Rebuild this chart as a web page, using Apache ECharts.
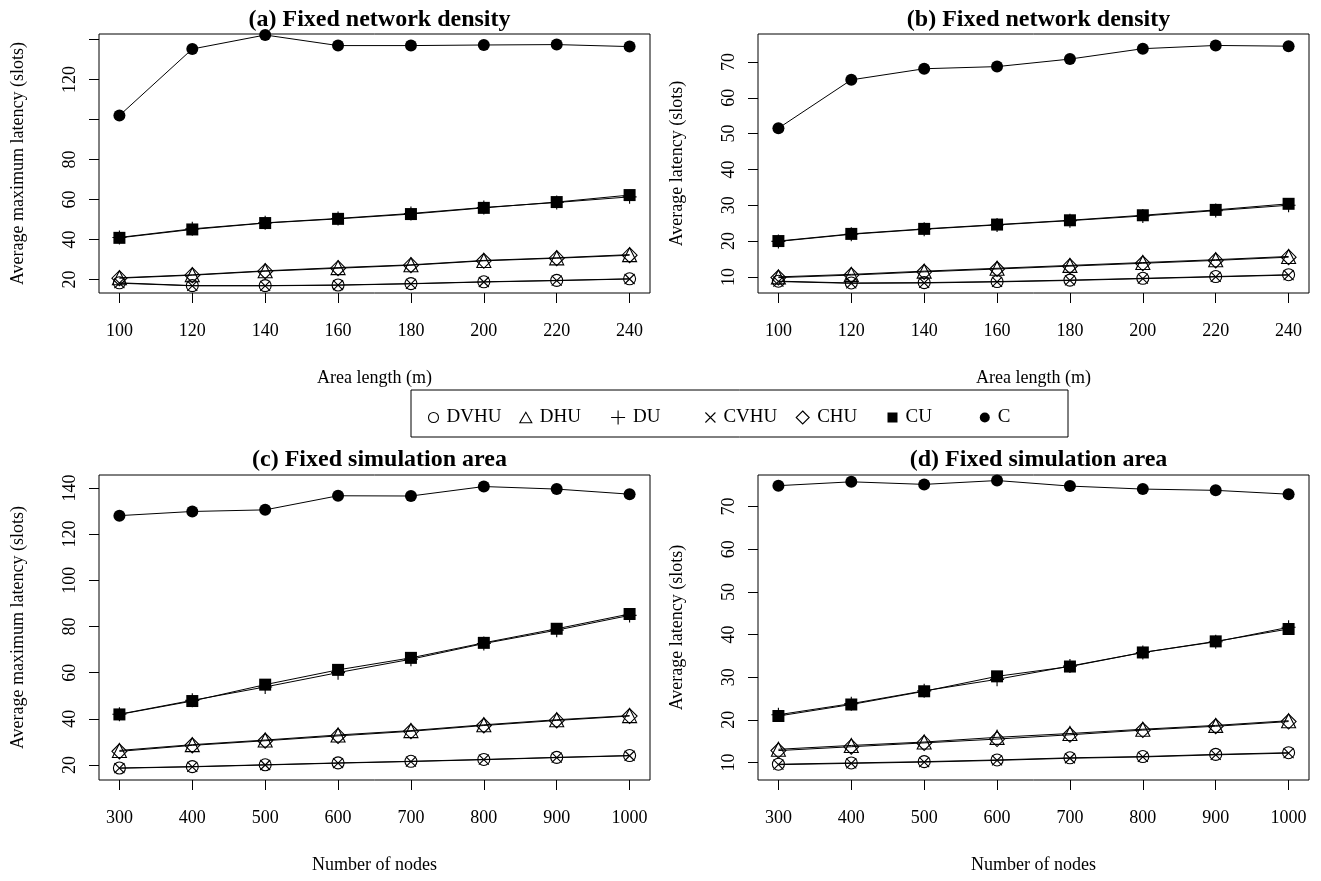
<!DOCTYPE html>
<html>
<head>
<meta charset="utf-8">
<script src="https://cdn.jsdelivr.net/npm/echarts@6/dist/echarts.min.js"></script>
<style>html,body{margin:0;padding:0;background:#fff}#c{width:1321px;height:881px}</style>
</head>
<body>
<div id="c"></div>
<script>
// ---------- data ----------
const seriesNames = ['DVHU', 'DHU', 'DU', 'CVHU', 'CHU', 'CU', 'C'];
const areaLength = [100, 120, 140, 160, 180, 200, 220, 240];
const numNodes = [300, 400, 500, 600, 700, 800, 900, 1000];

// (a) Fixed network density: average maximum latency
const aDVHU = [18.3, 16.9, 16.9, 17.2, 17.9, 18.8, 19.5, 20.3];
const aDHU  = [20.8, 22.3, 24.3, 25.9, 27.3, 29.5, 30.8, 32.4];
const aDU   = [41.0, 45.3, 48.3, 50.5, 53.0, 56.0, 58.5, 61.3];
const aCVHU = [18.1, 16.8, 16.8, 17.1, 17.8, 18.7, 19.4, 20.2];
const aCHU  = [20.6, 22.1, 24.1, 25.6, 27.1, 29.3, 30.6, 32.1];
const aCU   = [40.8, 45.0, 48.2, 50.3, 52.7, 55.8, 58.7, 62.2];
const aC    = [102.0, 135.3, 142.3, 137.0, 137.0, 137.3, 137.5, 136.5];

// (b) Fixed network density: average latency
const bDVHU = [8.8, 8.3, 8.4, 8.7, 9.1, 9.6, 10.1, 10.6];
const bDHU  = [10.0, 10.7, 11.6, 12.4, 13.2, 14.0, 14.8, 15.7];
const bDU   = [19.9, 21.9, 23.3, 24.5, 25.7, 27.0, 28.5, 30.0];
const bCVHU = [8.7, 8.2, 8.3, 8.6, 9.0, 9.5, 10.0, 10.5];
const bCHU  = [9.8, 10.5, 11.4, 12.2, 13.0, 13.8, 14.6, 15.5];
const bCU   = [20.0, 22.0, 23.4, 24.6, 25.8, 27.2, 28.7, 30.4];
const bC    = [51.5, 65.0, 68.1, 68.7, 70.8, 73.7, 74.6, 74.4];

// (c) Fixed simulation area: average maximum latency
const cDVHU = [18.7, 19.3, 20.1, 20.9, 21.6, 22.4, 23.3, 24.1];
const cDHU  = [26.3, 28.8, 30.8, 33.0, 34.9, 37.4, 39.6, 41.4];
const cDU   = [42.0, 48.0, 53.8, 60.0, 65.8, 72.6, 78.4, 84.8];
const cCVHU = [18.6, 19.2, 20.0, 20.8, 21.5, 22.3, 23.2, 24.0];
const cCHU  = [25.9, 28.5, 30.5, 32.6, 34.6, 37.1, 39.3, 41.2];
const cCU   = [41.9, 47.7, 54.8, 61.2, 66.4, 72.9, 79.0, 85.4];
const cC    = [128.0, 129.8, 130.5, 136.6, 136.5, 140.6, 139.5, 137.3];

// (d) Fixed simulation area: average latency
const dDVHU = [9.6, 9.9, 10.2, 10.6, 11.1, 11.4, 11.9, 12.3];
const dDHU  = [13.1, 14.0, 14.8, 15.9, 16.8, 17.8, 18.7, 19.8];
const dDU   = [21.2, 23.8, 26.8, 29.5, 32.6, 35.8, 38.3, 41.7];
const dCVHU = [9.5, 9.8, 10.1, 10.5, 11.0, 11.3, 11.8, 12.2];
const dCHU  = [12.8, 13.7, 14.6, 15.5, 16.5, 17.6, 18.5, 19.6];
const dCU   = [20.9, 23.6, 26.7, 30.2, 32.5, 35.8, 38.4, 41.3];
const dC    = [74.9, 75.8, 75.2, 76.1, 74.8, 74.1, 73.8, 72.9];

// tick values / labels
const yTicksMax = [20, 40, 60, 80, 100, 120, 140];
const yLabelsA  = [20, 40, 60, 80, 120];
const yLabelsC  = [20, 40, 60, 80, 100, 120, 140];
const yTicksAvg = [10, 20, 30, 40, 50, 60, 70];

const panelTitles = ['(a) Fixed network density', '(b) Fixed network density',
                     '(c) Fixed simulation area', '(d) Fixed simulation area'];
const xTitles = ['Area length (m)', 'Area length (m)', 'Number of nodes', 'Number of nodes'];
const yTitles = ['Average maximum latency (slots)', 'Average latency (slots)',
                 'Average maximum latency (slots)', 'Average latency (slots)'];

// ---------- build ----------
const FONT = 'Liberation Serif';
const panels = [
  {x: areaLength, ys: [aDVHU, aDHU, aDU, aCVHU, aCHU, aCU, aC], yTicks: yTicksMax, yLabels: yLabelsA},
  {x: areaLength, ys: [bDVHU, bDHU, bDU, bCVHU, bCHU, bCU, bC], yTicks: yTicksAvg, yLabels: yTicksAvg},
  {x: numNodes,   ys: [cDVHU, cDHU, cDU, cCVHU, cCHU, cCU, cC], yTicks: yTicksMax, yLabels: yLabelsC},
  {x: numNodes,   ys: [dDVHU, dDHU, dDU, dCVHU, dCHU, dCU, dC], yTicks: yTicksAvg, yLabels: yTicksAvg}
];
const layout = [
  {grid: {left: 99,  top: 34,  width: 551, height: 259}, xr: [94.4, 245.6], yr: [13.2, 142.8]},
  {grid: {left: 758, top: 34,  width: 551, height: 259}, xr: [94.4, 245.6], yr: [5.5, 77.8]},
  {grid: {left: 99,  top: 475, width: 551, height: 305}, xr: [272, 1028],   yr: [13.5, 145.6]},
  {grid: {left: 758, top: 475, width: 551, height: 305}, xr: [272, 1028],   yr: [5.9, 77.4]}
];

const openStyle = {color: 'none', borderColor: '#000', borderWidth: 1.1};
const filledStyle = {color: '#000', borderColor: '#000', borderWidth: 0};
const markers = [
  {symbol: 'circle', size: 12, style: openStyle, lsize: 10},
  {symbol: 'path://M5,0 L10,8.66 L0,8.66 Z', size: 14, style: openStyle, lsize: 12},
  {symbol: 'path://M5,0 L5,10 M0,5 L10,5', size: 14, style: openStyle, lsize: 14},
  {symbol: 'path://M0,0 L10,10 M10,0 L0,10', size: 10, style: openStyle, lsize: 10},
  {symbol: 'path://M5,0 L10,5 L5,10 L0,5 Z', size: 15, style: openStyle, lsize: 13},
  {symbol: 'rect', size: 12, style: filledStyle, lsize: 10},
  {symbol: 'circle', size: 12, style: filledStyle, lsize: 10}
];

const grids = [], xAxes = [], yAxes = [], series = [], titles = [];
panels.forEach((p, g) => {
  const L = layout[g];
  grids.push(Object.assign({show: true, borderColor: '#000', borderWidth: 1, backgroundColor: 'transparent'}, L.grid));
  xAxes.push({
    type: 'value', gridIndex: g, min: L.xr[0], max: L.xr[1],
    axisLine: {show: false}, splitLine: {show: false},
    axisTick: {show: true, inside: false, length: 10, customValues: p.x, lineStyle: {color: '#000', width: 1}},
    axisLabel: {customValues: p.x, formatter: v => String(v), margin: 29, color: '#000', fontFamily: FONT, fontSize: 18},
    name: xTitles[g], nameLocation: 'middle', nameGap: 76,
    nameTextStyle: {color: '#000', fontFamily: FONT, fontSize: 18}
  });
  yAxes.push({
    type: 'value', gridIndex: g, min: L.yr[0], max: L.yr[1],
    axisLine: {show: false}, splitLine: {show: false},
    axisTick: {show: true, inside: false, length: 10, customValues: p.yTicks, lineStyle: {color: '#000', width: 1}},
    axisLabel: {customValues: p.yLabels, formatter: v => String(v), rotate: 90, margin: 20, color: '#000', fontFamily: FONT, fontSize: 18},
    name: yTitles[g], nameLocation: 'middle', nameGap: 72, nameRotate: 90,
    nameTextStyle: {color: '#000', fontFamily: FONT, fontSize: 18}
  });
  p.ys.forEach((vals, s) => {
    const m = markers[s];
    series.push({
      type: 'line', name: seriesNames[s], xAxisIndex: g, yAxisIndex: g,
      data: p.x.map((x, i) => [x, vals[i]]),
      symbol: m.symbol, symbolSize: m.size, showAllSymbol: true,
      itemStyle: m.style, lineStyle: {color: '#000', width: 1},
      emphasis: {disabled: true}, silent: true, clip: false, z: 2 + s
    });
  });
  titles.push({
    text: panelTitles[g], left: L.grid.left + L.grid.width / 2, textAlign: 'center', top: 3,
    textStyle: {color: '#000', fontFamily: FONT, fontSize: 24, fontWeight: 'bold'}
  });
});
titles[2].top = 443; titles[3].top = 443;

// legend: one component per item, equally spaced like R's horizontal legend
const legends = seriesNames.map((n, i) => {
  const m = markers[i];
  return {
    data: [{name: n, icon: m.symbol, itemStyle: m.style}],
    left: 421 + i * 92.3 - (m.lsize - 10) / 2, top: 403, itemWidth: m.lsize, itemHeight: m.lsize,
    selectedMode: false, textStyle: {color: '#000', fontFamily: FONT, fontSize: 19, padding: [0, 0, 0, 3]}
  };
});

const chart = echarts.init(document.getElementById('c'), null, {renderer: 'canvas'});
chart.setOption({
  animation: false, backgroundColor: '#fff',
  title: titles, grid: grids, xAxis: xAxes, yAxis: yAxes, series: series, legend: legends,
  graphic: [{type: 'rect', shape: {x: 411, y: 390, width: 657, height: 47},
             style: {fill: 'none', stroke: '#000', lineWidth: 1}, silent: true}]
});
</script>
</body>
</html>
